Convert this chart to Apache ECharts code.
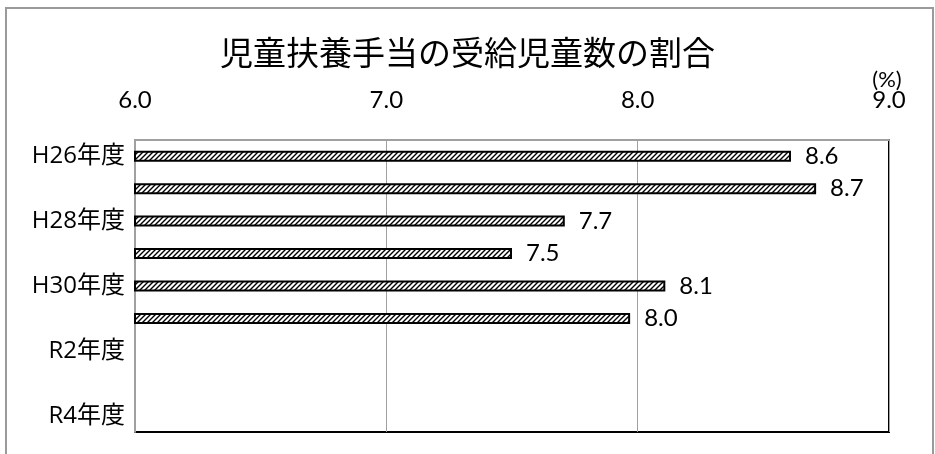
<!DOCTYPE html>
<html>
<head>
<meta charset="utf-8">
<script src="https://cdn.jsdelivr.net/npm/echarts@6/dist/echarts.min.js"></script>
<style>
  html, body { margin: 0; padding: 0; background: #fff; }
  #chart { width: 935px; height: 454px; }
</style>
</head>
<body>
<div id="chart"></div>
<script>
// 年度と割合(%)
const categories = ["H26年度", "H27年度", "H28年度", "H29年度", "H30年度", "R1年度", "R2年度", "R3年度", "R4年度"];
const ratios = [8.61, 8.71, 7.71, 7.50, 8.11, 7.97, null, null, null];
const ticks = { min: 6, max: 9, step: 1 };

// 斜線ハッチ
function hatch() {
  const c = document.createElement("canvas");
  c.width = 5; c.height = 5;
  const g = c.getContext("2d");
  g.fillStyle = "#fff";
  g.fillRect(0, 0, 5, 5);
  g.strokeStyle = "#000";
  g.lineWidth = 1.4;
  g.beginPath();
  g.moveTo(-1, 6); g.lineTo(6, -1);
  g.moveTo(-1, 1); g.lineTo(1, -1);
  g.moveTo(4, 6); g.lineTo(6, 4);
  g.stroke();
  return c;
}

const jp = "'Noto Sans CJK JP', sans-serif";
const lbl = "'Open Sans', 'Noto Sans CJK JP', sans-serif";
const num = "Lato, 'Noto Sans CJK JP', sans-serif";

const chart = echarts.init(document.getElementById("chart"));
chart.setOption({
  animation: false,
  title: {
    text: "児童扶養手当の受給児童数の割合",
    left: "center",
    top: 31,
    textStyle: { fontFamily: jp, fontSize: 33, fontWeight: "normal", color: "#000" }
  },
  graphic: [
    { type: "rect", shape: { x: 6, y: 8, width: 927, height: 470 },
      style: { fill: "none", stroke: "#9a9a9a", lineWidth: 2 }, z: -1 },
    { type: "text", x: 887, y: 80,
      style: { text: "(%)", fontFamily: num, fontSize: 22, fill: "#000", textAlign: "center", textVerticalAlign: "middle" } }
  ],
  grid: {
    left: 135, right: 46, top: 140, bottom: 22,
    show: true, borderColor: "#000", borderWidth: 2, backgroundColor: "#fff"
  },
  xAxis: {
    type: "value",
    position: "top",
    min: ticks.min, max: ticks.max, interval: ticks.step,
    axisLine: { show: true, lineStyle: { color: "#a0a0a0", width: 2 } },
    axisTick: { show: false },
    splitLine: { lineStyle: { color: "#a0a0a0", width: 1 } },
    axisLabel: {
      margin: 28, color: "#000", fontFamily: num, fontSize: 24,
      formatter: v => v.toFixed(1)
    }
  },
  yAxis: {
    type: "category",
    inverse: true,
    data: categories,
    axisLine: { lineStyle: { color: "#a0a0a0", width: 2 } },
    axisTick: { show: false },
    axisLabel: { interval: 1, margin: 10, color: "#000", fontFamily: lbl, fontSize: 24 }
  },
  series: [{
    type: "bar",
    data: ratios,
    barWidth: 11,
    itemStyle: {
      color: { image: hatch(), repeat: "repeat" },
      borderColor: "#000",
      borderWidth: 2
    },
    label: {
      show: true,
      position: "right",
      distance: 14,
      color: "#000",
      fontFamily: num,
      fontSize: 24,
      formatter: p => p.value.toFixed(1)
    }
  }]
});
</script>
</body>
</html>
